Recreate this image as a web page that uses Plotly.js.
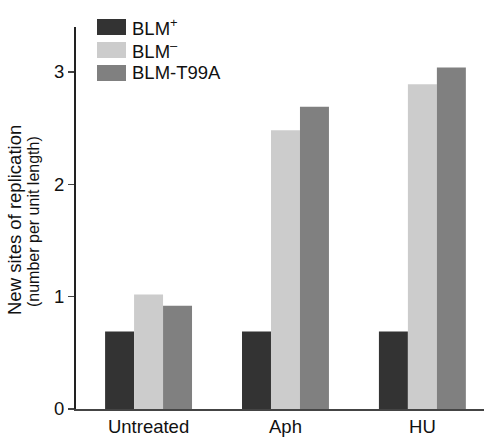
<!DOCTYPE html>
<html>
<head>
<meta charset="utf-8">
<script src="https://cdn.plot.ly/plotly-3.0.1.min.js"></script>
<style>
  html, body { margin: 0; padding: 0; background: #fff; }
  #chart { width: 502px; height: 438px; }
</style>
</head>
<body>
<div id="chart"></div>
<script>
"use strict"
let categories = ['Untreated', 'Aph', 'HU'];
let seriesNames = ['BLM<sup>+</sup>', 'BLM<sup>\u2013</sup>', 'BLM-T99A'];
let seriesColors = ['#333333', '#cccccc', '#808080'];
let blmPlus = [0.69, 0.69, 0.69];
let blmMinus = [1.02, 2.48, 2.89];
let blmT99A = [0.92, 2.69, 3.04];
let seriesValues = [blmPlus, blmMinus, blmT99A];

let W = 502, H = 438;
let mL = 76, mR = 18, mT = 27, mB = 29;
let plotW = W - mL - mR, plotH = H - mT - mB;
function px(x) { return (x - mL) / plotW; }
function py(y) { return (H - mB - y) / plotH; }

var data = [];
for (let i = 0; i < seriesValues.length; i++) {
    data.push({
        x: categories,
        y: seriesValues[i],
        name: seriesNames[i],
        type: 'bar',
        hoverinfo: 'none',
        marker: { color: seriesColors[i], line: { width: 0 } }
    });
}

// custom legend: big swatches like the figure
let shapes = [];
let annotations = [];
for (let i = 0; i < seriesNames.length; i++) {
    let top = 19 + i * 23;
    shapes.push({
        type: 'rect', xref: 'paper', yref: 'paper',
        x0: px(97), x1: px(126), y0: py(top + 16), y1: py(top),
        fillcolor: seriesColors[i], line: { width: 0 }
    });
    annotations.push({
        xref: 'paper', yref: 'paper', x: px(130), y: py(top + 8),
        xanchor: 'left', yanchor: 'middle', showarrow: false,
        text: seriesNames[i], font: { size: 18.5, color: '#111' }
    });
}

// y axis title, two lines of different size
annotations.push({
    xref: 'paper', yref: 'paper', x: px(15), y: py(220),
    xanchor: 'center', yanchor: 'middle', showarrow: false, textangle: -90,
    text: 'New sites of replication', font: { size: 18.5, color: '#111' }
});
annotations.push({
    xref: 'paper', yref: 'paper', x: px(33), y: py(222),
    xanchor: 'center', yanchor: 'middle', showarrow: false, textangle: -90,
    text: '(number per unit length)', font: { size: 16, color: '#111' }
});

var layout = {
    width: W,
    height: H,
    margin: { l: mL, r: mR, t: mT, b: mB, pad: 0 },
    paper_bgcolor: '#fff',
    plot_bgcolor: '#fff',
    font: { family: 'Liberation Sans, Arial, sans-serif', size: 18.5, color: '#111' },
    barmode: 'group',
    bargap: 0.365,
    bargroupgap: 0,
    showlegend: false,
    xaxis: {
        range: [-0.53, 2.45],
        showline: true, linecolor: '#444', linewidth: 1.5,
        ticks: '', showgrid: false, zeroline: false,
        tickfont: { size: 18.5 }
    },
    yaxis: {
        range: [0, 3.4],
        tickvals: [0, 1, 2, 3],
        showline: true, linecolor: '#222', linewidth: 2,
        ticks: 'outside', ticklen: 6, tickwidth: 1.5, tickcolor: '#444',
        showgrid: false, zeroline: false,
        tickfont: { size: 18.5 }
    },
    shapes: shapes,
    annotations: annotations
};

Plotly.newPlot('chart', data, layout, { staticPlot: true });
</script>
</body>
</html>
